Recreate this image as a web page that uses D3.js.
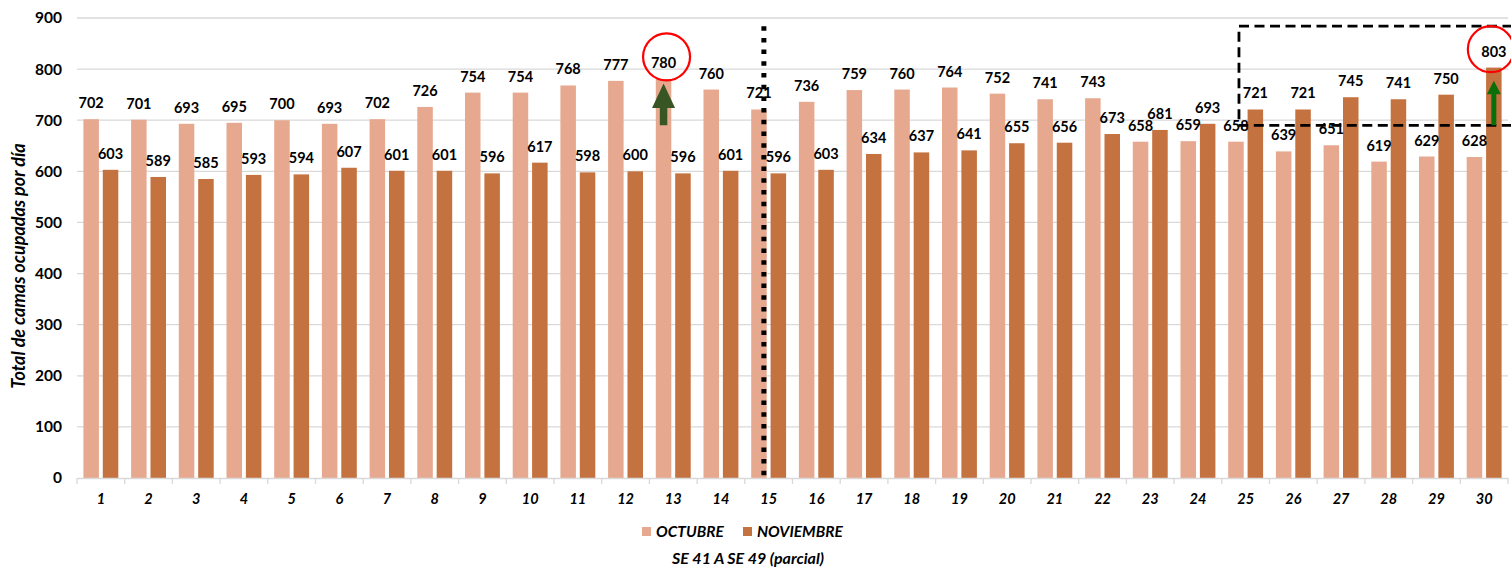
<!DOCTYPE html>
<html><head><meta charset="utf-8">
<script src="https://cdn.jsdelivr.net/npm/d3@7"></script>
<style>
html,body{margin:0;padding:0;background:#fff;}
svg{display:block;font-family:Lato,"Open Sans",sans-serif;}
</style></head>
<body>
<svg id="chart" width="1511" height="569"></svg>
<script>
const days = d3.range(1, 31).map(String);
const seriesNames = ["OCTUBRE", "NOVIEMBRE"];
const octubre = [702,701,693,695,700,693,702,726,754,754,768,777,780,760,721,736,759,760,764,752,741,743,658,659,658,639,651,619,629,628];
const noviembre = [603,589,585,593,594,607,601,601,596,617,598,600,596,601,596,603,634,637,641,655,656,673,681,693,721,721,745,741,750,803];
const yTicks = [0,100,200,300,400,500,600,700,800,900];
const colors = ["#E6A98F", "#C4723F"];
const yTitle = "Total de camas ocupadas por día";
const xTitle = "SE 41 A SE 49 (parcial)";

const svg = d3.select("#chart");
const L = 77, R = 1508, T = 18, B = 478;

const x = d3.scaleBand().domain(days).range([L, R]).padding(0);
const xs = d3.scaleBand().domain(seriesNames).range([0, x.bandwidth()]).paddingInner(0.2).paddingOuter(0.33);
const y = d3.scaleLinear().domain([0, 900]).range([B, T]);

// gridlines
svg.append("g").selectAll("line").data(yTicks.filter(d => d > 0)).join("line")
  .attr("x1", L).attr("x2", R).attr("y1", d => y(d)).attr("y2", d => y(d))
  .attr("stroke", "#d9d9d9").attr("stroke-width", 1.3);

// y axis labels
const yAxis = svg.append("g").attr("transform", `translate(${L},0)`)
  .call(d3.axisLeft(y).tickValues(yTicks).tickSize(0).tickPadding(15));
yAxis.select(".domain").remove();
yAxis.selectAll("text").attr("font-size", 15.5).attr("font-weight", "bold").attr("fill", "#000")
  .attr("font-family", "Lato, sans-serif");

// bars
const data = days.map((d, i) => ({day: d, vals: [octubre[i], noviembre[i]]}));
const groups = svg.append("g").selectAll("g").data(data).join("g")
  .attr("transform", d => `translate(${x(d.day)},0)`);
groups.selectAll("rect").data(d => d.vals.map((v, k) => ({k, v}))).join("rect")
  .attr("x", d => xs(seriesNames[d.k])).attr("width", xs.bandwidth())
  .attr("y", d => y(d.v)).attr("height", d => y(0) - y(d.v))
  .attr("fill", d => colors[d.k]);
groups.selectAll("text").data(d => d.vals.map((v, k) => ({k, v}))).join("text")
  .attr("x", d => xs(seriesNames[d.k]) + xs.bandwidth() / 2)
  .attr("y", d => y(d.v) - 11)
  .attr("text-anchor", "middle").attr("font-size", 14.5).attr("font-weight", "bold")
  .attr("fill", "#000").text(d => d.v);

// x axis
const xAxis = svg.append("g").attr("transform", `translate(0,${B})`)
  .call(d3.axisBottom(x).tickSize(0).tickPadding(16));
xAxis.select(".domain").attr("stroke", "#d9d9d9").attr("stroke-width", 1.5);
xAxis.selectAll("text").attr("font-size", 14.5).attr("font-weight", "bold").attr("font-style", "italic")
  .attr("fill", "#000").attr("font-family", "Lato, sans-serif");
svg.append("g").selectAll("line").data(days.concat(["end"])).join("line")
  .attr("x1", d => d === "end" ? R : x(d)).attr("x2", d => d === "end" ? R : x(d))
  .attr("y1", B).attr("y2", B + 6).attr("stroke", "#d9d9d9").attr("stroke-width", 1.3);

// y title
svg.append("text").attr("transform", `translate(25,${(T + B) / 2 + 18}) rotate(-90)`)
  .attr("text-anchor", "middle").attr("font-size", 18).attr("font-weight", "bold").attr("font-style", "italic")
  .attr("fill", "#000").text(yTitle);

// legend
const legend = svg.append("g");
const legX = [642, 743];
seriesNames.forEach((n, i) => {
  legend.append("rect").attr("x", legX[i]).attr("y", 527).attr("width", 9).attr("height", 9).attr("fill", colors[i]);
  legend.append("text").attr("x", legX[i] + 14).attr("y", 536.5).attr("font-size", 15.5).attr("font-weight", "bold")
    .attr("font-style", "italic").attr("fill", "#000").text(n);
});

// x title
svg.append("text").attr("x", 748).attr("y", 564).attr("text-anchor", "middle")
  .attr("font-size", 16).attr("font-weight", "bold").attr("font-style", "italic").attr("fill", "#000").text(xTitle);

// annotations
const bw = x.bandwidth();
// dotted vertical line at day 15
const xd = x("15") + bw * 0.4;
svg.append("line").attr("x1", xd).attr("x2", xd).attr("y1", y(884)).attr("y2", B + 4)
  .attr("stroke", "#000").attr("stroke-width", 5).attr("stroke-dasharray", "4.5,7.2");

// dashed box
const bx = x("25") + bw * 0.36;
svg.append("path").attr("d", `M${R + 20},${y(884)} L${bx},${y(884)} L${bx},${y(690)} L${R + 20},${y(690)}`)
  .attr("fill", "none").attr("stroke", "#000").attr("stroke-width", 2.8).attr("stroke-dasharray", "10,5.5");

// circles
const cx13 = x("13") + xs("OCTUBRE") + xs.bandwidth() / 2;
svg.append("circle").attr("cx", cx13 + 3).attr("cy", y(824)).attr("r", 23.5)
  .attr("fill", "none").attr("stroke", "#ff0000").attr("stroke-width", 2.2);
const cx30 = x("30") + xs("NOVIEMBRE") + xs.bandwidth() / 2;
svg.append("circle").attr("cx", cx30 - 3).attr("cy", y(839)).attr("r", 23)
  .attr("fill", "none").attr("stroke", "#ff0000").attr("stroke-width", 2.2);

// arrows
function arrow(cx, tip, base, bottom, headW, shaftW, color) {
  const p = `M${cx},${tip} L${cx + headW / 2},${base} L${cx + shaftW / 2},${base} L${cx + shaftW / 2},${bottom} ` +
            `L${cx - shaftW / 2},${bottom} L${cx - shaftW / 2},${base} L${cx - headW / 2},${base} Z`;
  svg.append("path").attr("d", p).attr("fill", color);
}
arrow(cx13, y(772), y(724), y(690), 23, 7.5, "#375623");
arrow(cx30, y(777), y(751), y(690), 14, 5, "#0A6E0A");
</script>
</body></html>
